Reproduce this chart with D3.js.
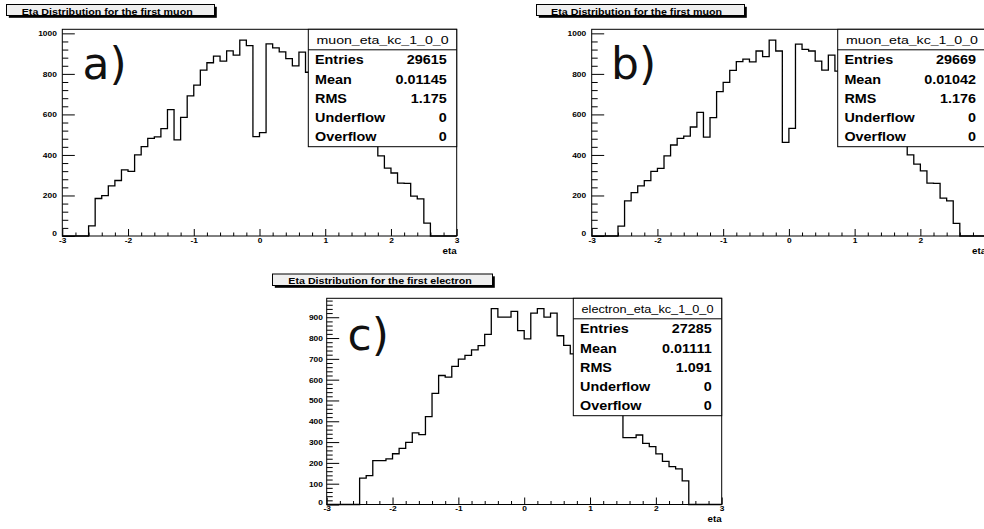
<!DOCTYPE html>
<html><head><meta charset="utf-8">
<script src="https://cdn.jsdelivr.net/npm/d3@7"></script>
<style>html,body{margin:0;padding:0;background:#fff;overflow:hidden}</style>
</head><body><svg id="chart" width="984" height="529"></svg>
<script>
// ---------------- data ----------------
const binLowEdges = [-3.0,-2.9,-2.8,-2.7,-2.6,-2.5,-2.4,-2.3,-2.2,-2.1,-2.0,-1.9,-1.8,-1.7,-1.6,-1.5,-1.4,-1.3,-1.2,-1.1,-1.0,-0.9,-0.8,-0.7,-0.6,-0.5,-0.4,-0.3,-0.2,-0.1,0.0,0.1,0.2,0.3,0.4,0.5,0.6,0.7,0.8,0.9,1.0,1.1,1.2,1.3,1.4,1.5,1.6,1.7,1.8,1.9,2.0,2.1,2.2,2.3,2.4,2.5,2.6,2.7,2.8,2.9];
const binWidth = 0.1;
const muonA = [0,0,0,0,50,185,199,247,274,326,319,400,441,482,489,530,624,474,585,691,745,819,855,888,863,914,893,967,939,490,510,948,928,909,875,840,907,808,835,785,730,680,630,590,550,510,470,445,395,335,311,261,260,197,183,64,0,0,0,0];
const muonB = [0,0,0,0,49,173,214,247,273,319,334,395,449,482,493,538,610,488,584,712,758,817,860,873,859,913,885,967,913,462,531,947,921,913,863,819,893,814,840,790,740,690,640,600,560,520,480,450,400,355,321,261,260,187,173,62,0,0,0,0];
const electronC = [0,0,0,0,0,127,139,211,211,219,244,270,299,344,336,422,534,620,612,664,699,717,743,764,818,941,901,901,928,836,796,920,941,901,920,811,765,724,730,710,690,670,640,600,500,321,321,334,294,278,243,207,182,171,114,0,0,0,0,0];
const xTickValues = [-3,-2,-1,0,1,2,3];
const yTicksMuon = [0,200,400,600,800,1000];
const yTicksElectron = [0,100,200,300,400,500,600,700,800,900];
const statLabels = ["Entries","Mean","RMS","Underflow","Overflow"];
const statsA = ["29615","0.01145","1.175","0","0"];
const statsB = ["29669","0.01042","1.176","0","0"];
const statsC = ["27285","0.01111","1.091","0","0"];
const titles = ["Eta Distribution for the first muon","Eta Distribution for the first muon","Eta Distribution for the first electron"];
const histNames = ["muon_eta_kc_1_0_0","muon_eta_kc_1_0_0","electron_eta_kc_1_0_0"];
const panelTags = ["a)","b)","c)"];
const xAxisTitle = "eta";

// ---------------- layout ----------------
const SX = 1.15; // horizontal stretch of the original picture's text
const ROOTFONT = '"Liberation Sans", Arial, Helvetica, sans-serif';
const fmtInt = d => String(Math.round(d)); // plain hyphen-minus like ROOT
const svg = d3.select("#chart");
svg.append("rect").attr("width",984).attr("height",529).attr("fill","#fff");

function stext(g, x, y, str, size, weight, anchor, sx, family, fill) {
  return g.append("text")
    .attr("transform", `translate(${x},${y}) scale(${sx},1)`)
    .attr("text-anchor", anchor)
    .style("font-family", family || ROOTFONT)
    .style("font-size", size + "px")
    .style("font-weight", weight)
    .attr("fill", fill || "#000")
    .text(str);
}

const panels = [
  {values: muonA, stats: statsA, x0: 62.3, x1: 456.7, yTop: 29.3, yBase: 236, yMax: 1020,
   yMajor: yTicksMuon, yMinorStep: 40, box: [308.3, 29.3],
   title: {x: 6.5, y: 4.5, w: 208, h: 11, tx: 21.7, ty: 14.6},
   tag: {x: 82.5, y: 79}, labelGap: 5.5},
  {values: muonB, stats: statsB, x0: 591.7, x1: 986.1, yTop: 29.3, yBase: 236, yMax: 1020,
   yMajor: yTicksMuon, yMinorStep: 40, box: [837.7, 29.3],
   title: {x: 536.5, y: 4.5, w: 208, h: 11, tx: 551.1, ty: 14.6},
   tag: {x: 611, y: 78.5}, labelGap: 5.5},
  {values: electronC, stats: statsC, x0: 326.7, x1: 721.7, yTop: 298.3, yBase: 504.5, yMax: 991,
   yMajor: yTicksElectron, yMinorStep: 20, box: [573.3, 298.3],
   title: {x: 272.5, y: 274, w: 220, h: 11.5, tx: 288.3, ty: 284.3},
   tag: {x: 347.6, y: 350}, labelGap: 3.8}
];

panels.forEach((p, i) => {
  const g = svg.append("g");
  const x = d3.scaleLinear().domain([-3, 3]).range([p.x0, p.x1]);
  const y = d3.scaleLinear().domain([0, p.yMax]).range([p.yBase, p.yTop]);

  // histogram outline
  const pts = binLowEdges.map((e, k) => [e, p.values[k]]);
  pts.push([binLowEdges[binLowEdges.length - 1] + binWidth, p.values[p.values.length - 1]]);
  const line = d3.line().x(d => x(d[0])).y(d => y(d[1])).curve(d3.curveStepAfter);
  g.append("path").attr("d", line(pts)).attr("fill", "none")
    .attr("stroke", "#000").attr("stroke-width", 1.3);

  // frame
  g.append("rect").attr("x", p.x0).attr("y", p.yTop)
    .attr("width", p.x1 - p.x0).attr("height", p.yBase - p.yTop)
    .attr("fill", "none").attr("stroke", "#000").attr("stroke-width", 1);

  // x axis (ticks inside)
  const xMinor = d3.range(-3, 3.0001, 0.2).filter(v => Math.abs(v - Math.round(v)) > 1e-6);
  const gxm = g.append("g").attr("transform", `translate(0,${p.yBase})`)
    .call(d3.axisBottom(x).tickValues(xMinor).tickSizeInner(-3.5).tickSizeOuter(0).tickFormat(""));
  const gx = g.append("g").attr("transform", `translate(0,${p.yBase})`)
    .call(d3.axisBottom(x).tickValues(xTickValues).tickSizeInner(-7).tickSizeOuter(0).tickPadding(1.8).tickFormat(fmtInt));
  [gxm, gx].forEach(a => { a.select(".domain").remove(); a.selectAll("line").attr("stroke", "#000"); });
  gx.selectAll("text").attr("transform", `scale(${SX},1)`)
    .style("font-family", ROOTFONT).style("font-size", "7.3px").style("font-weight", "bold").attr("fill", "#000");

  // y axis (ticks inside)
  const yMinor = d3.range(0, p.yMax, p.yMinorStep).filter(v => !p.yMajor.includes(v));
  const gym = g.append("g").attr("transform", `translate(${p.x0},0)`)
    .call(d3.axisLeft(y).tickValues(yMinor).tickSizeInner(-6).tickSizeOuter(0).tickFormat(""));
  const gy = g.append("g").attr("transform", `translate(${p.x0},0)`)
    .call(d3.axisLeft(y).tickValues(p.yMajor).tickSizeInner(-12.5).tickSizeOuter(0).tickPadding(p.labelGap / SX).tickFormat(fmtInt));
  [gym, gy].forEach(a => { a.select(".domain").remove(); a.selectAll("line").attr("stroke", "#000"); });
  gy.selectAll("text").attr("transform", `scale(${SX},1)`)
    .style("font-family", ROOTFONT).style("font-size", "7.3px").style("font-weight", "bold").attr("fill", "#000");
  // the zero label sits slightly raised, as in ROOT
  gy.selectAll(".tick").filter(d => d === 0).select("text").attr("dy", "-0.05em");

  // axis title
  stext(g, p.x1, p.yBase + 17.5, xAxisTitle, 8.5, "bold", "end", SX);

  // stats box
  const [bx, by] = p.box, bw = 148.4, bh = 117.4;
  g.append("rect").attr("x", bx).attr("y", by).attr("width", bw).attr("height", bh)
    .attr("fill", "#fff").attr("stroke", "#000").attr("stroke-width", 1);
  g.append("line").attr("x1", bx).attr("x2", bx + bw).attr("y1", by + 20.5).attr("y2", by + 20.5)
    .attr("stroke", "#000").attr("stroke-width", 1);
  g.append("text").attr("x", bx + bw / 2).attr("y", by + 14.5).attr("text-anchor", "middle")
    .attr("textLength", 132).attr("lengthAdjust", "spacingAndGlyphs")
    .style("font-family", ROOTFONT).style("font-size", "11.5px").attr("fill", "#000")
    .text(histNames[i]);
  const rowY = [35, 54.2, 73.4, 92.9, 112];
  statLabels.forEach((lab, k) => {
    stext(g, bx + 6.7, by + rowY[k], lab, 12.5, "bold", "start", SX);
    stext(g, bx + bw - 10, by + rowY[k], p.stats[k], 12.5, "bold", "end", SX);
  });

  // title box with shadow
  const t = p.title;
  g.append("rect").attr("x", t.x + 2.3).attr("y", t.y + 2.3).attr("width", t.w).attr("height", t.h).attr("fill", "#000");
  g.append("rect").attr("x", t.x).attr("y", t.y).attr("width", t.w).attr("height", t.h)
    .attr("fill", "#efefef").attr("stroke", "#000").attr("stroke-width", 1);
  stext(g, t.tx, t.ty, titles[i], 9.3, "bold", "start", SX);

  // panel tag
  stext(g, p.tag.x, p.tag.y, panelTags[i], 44, "normal", "start", 1, '"DejaVu Sans", sans-serif', "#111");
});
</script></body></html>
